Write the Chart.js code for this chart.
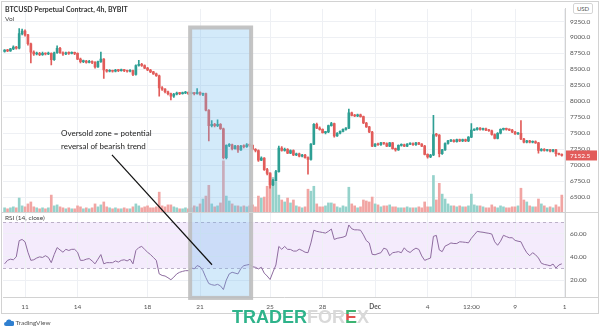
<!DOCTYPE html>
<html>
<head>
<meta charset="utf-8">
<title>BTCUSD Perpetual Contract, 4h</title>
<script src="https://cdn.jsdelivr.net/npm/chart.js@4.4.0/dist/chart.umd.min.js"></script>
<style>
  html, body { margin: 0; padding: 0; background: #fff; }
  #wrap { position: relative; width: 600px; height: 332px; overflow: hidden; }
  #chart { position: absolute; left: 0; top: 0; }
  .txt { position: absolute; white-space: nowrap; line-height: 10px; font-family: Lato, sans-serif; color: #333; }
  #usd { position: absolute; left: 573px; top: 3px; width: 18px; height: 9px; border: 1px solid #d5d5d5; border-radius: 2px;
         font: 6px Lato, sans-serif; color: #555; text-align: center; line-height: 9px; background: #fff; }
  #brand { position: absolute; left: 232px; top: 308px; font: bold 18px 'Liberation Sans', sans-serif; line-height: 18px; }
  #brand .e { background: linear-gradient(#3cb371 0 34%, #e0504e 34% 64%, #3cb371 64%);
              -webkit-background-clip: text; background-clip: text; color: transparent; }
</style>
</head>
<body>
<div id="wrap">
  <canvas id="chart" width="600" height="332"></canvas>
  <div class="txt" style="left:5px;top:4px;font-size:7px;font-weight:700;color:#333">BTCUSD Perpetual Contract, 4h, BYBIT</div>
  <div class="txt" style="left:5px;top:14px;font-size:6.5px;color:#444">Vol</div>
  <div class="txt" style="left:5px;top:213px;font-size:6.5px;color:#444">RSI (14, close)</div>
  <div class="txt" style="left:61px;top:128px;font-size:8px;color:#222">Oversold zone = potential</div>
  <div class="txt" style="left:61px;top:141px;font-size:8px;color:#222">reversal of bearish trend</div>
  <div id="usd">USD</div>
  <div class="txt" style="left:4px;top:318px;font-size:6.5px;color:#555">
    <svg width="10" height="7" viewBox="0 0 10 7" style="vertical-align:-1px"><path d="M2 7a2 2 0 0 1 0-4a3 3 0 0 1 5.5-1a2.2 2.2 0 0 1 1 5z" fill="#2f7fd0"/></svg>
    TradingView
  </div>
  <div id="brand"><span style="color:#2fb38b">TRADER</span><span style="color:#d9d9d9">FOR</span><span class="e">E</span><span style="color:#d9d9d9">X</span></div>
</div>
<script>
// 4h candles, BTCUSD perpetual
const opens = [
  8780, 8800, 8790, 8820, 8850, 8830, 9060, 9100, 9040, 8900,
  8770, 8740, 8750, 8730, 8750, 8740, 8750, 8650, 8760, 8830,
  8760, 8740, 8760, 8750, 8760, 8750, 8660, 8620, 8630, 8610,
  8625, 8610, 8540, 8620, 8660, 8490, 8470, 8480, 8470, 8490,
  8480, 8490, 8480, 8470, 8480, 8420, 8560, 8580, 8560, 8520,
  8490, 8460, 8430, 8400, 8210, 8190, 8150, 8120, 8080, 8110,
  8130, 8120, 8130, 8140, 8120, 8130, 8120, 8140, 8110, 8120,
  7860, 7620, 7640, 7620, 7640, 7570, 7120, 7310, 7320, 7260,
  7300, 7240, 7300, 7290, 7320, 7310, 7250, 7230, 7080, 7110,
  6930, 6870, 6690, 6760, 6900, 7270, 7230, 7250, 7190, 7230,
  7160, 7180, 7140, 7160, 7120, 7090, 7330, 7640, 7580, 7560,
  7510, 7520, 7620, 7650, 7460, 7500, 7530, 7560, 7580, 7820,
  7780, 7770, 7790, 7760, 7660, 7600, 7520, 7300, 7330, 7320,
  7350, 7340, 7300, 7350, 7260, 7240, 7310, 7320, 7300, 7330,
  7340, 7320, 7350, 7330, 7300, 7170, 7130, 7160, 7480, 7470,
  7180, 7240, 7340, 7380, 7390, 7370, 7400, 7380, 7400, 7380,
  7440, 7550, 7560, 7580, 7560, 7570, 7550, 7540, 7480, 7420,
  7500, 7560, 7570, 7560, 7550, 7520, 7490, 7500, 7410, 7360,
  7380, 7360, 7370, 7350, 7230, 7250, 7230, 7240, 7220, 7240,
  7180, 7170
];
const highs = [
  8810, 8815, 8830, 8870, 8860, 9140, 9130, 9120, 9050, 8910,
  8790, 8770, 8765, 8770, 8760, 8770, 8760, 8770, 8870, 8845,
  8775, 8770, 8775, 8775, 8770, 8760, 8675, 8645, 8640, 8640,
  8635, 8620, 8630, 8770, 8670, 8500, 8495, 8490, 8500, 8500,
  8505, 8500, 8490, 8495, 8490, 8570, 8640, 8595, 8570, 8530,
  8500, 8470, 8440, 8410, 8230, 8200, 8160, 8130, 8125, 8145,
  8140, 8145, 8155, 8150, 8145, 8140, 8200, 8150, 8130, 8130,
  7870, 7700, 7655, 7710, 7650, 7580, 7320, 7340, 7330, 7310,
  7310, 7310, 7320, 7340, 7335, 7320, 7260, 7240, 7130, 7120,
  6950, 6880, 6780, 6920, 7300, 7290, 7270, 7260, 7240, 7240,
  7190, 7190, 7170, 7170, 7130, 7340, 7650, 7660, 7600, 7570,
  7530, 7630, 7670, 7660, 7510, 7540, 7570, 7590, 7880, 7830,
  7795, 7800, 7800, 7770, 7670, 7610, 7530, 7340, 7345, 7360,
  7360, 7350, 7360, 7360, 7270, 7320, 7335, 7330, 7340, 7350,
  7350, 7360, 7360, 7340, 7310, 7180, 7170, 7780, 7500, 7480,
  7250, 7350, 7390, 7400, 7400, 7410, 7410, 7410, 7410, 7450,
  7650, 7570, 7590, 7590, 7580, 7580, 7560, 7550, 7490, 7510,
  7570, 7580, 7580, 7570, 7560, 7530, 7510, 7700, 7420, 7390,
  7390, 7380, 7380, 7360, 7260, 7260, 7250, 7250, 7250, 7250,
  7190, 7180
];
const lows = [
  8770, 8775, 8780, 8810, 8815, 8820, 9040, 9020, 8880, 8600,
  8720, 8725, 8715, 8720, 8725, 8730, 8570, 8640, 8750, 8750,
  8720, 8730, 8735, 8740, 8730, 8650, 8600, 8605, 8595, 8600,
  8590, 8520, 8530, 8610, 8360, 8455, 8460, 8455, 8460, 8465,
  8470, 8465, 8455, 8460, 8400, 8410, 8550, 8545, 8510, 8480,
  8450, 8420, 8390, 8080, 8170, 8130, 8100, 8020, 8060, 8100,
  8105, 8110, 8120, 8105, 8110, 8100, 8110, 8095, 8090, 7850,
  7380, 7600, 7600, 7605, 7560, 7100, 7100, 7290, 7240, 7250,
  7200, 7230, 7270, 7280, 7290, 7240, 7210, 7060, 7070, 6920,
  6850, 6640, 6680, 6750, 6890, 7220, 7220, 7180, 7180, 7150,
  7150, 7130, 7130, 7110, 6860, 7080, 7320, 7570, 7550, 7500,
  7490, 7510, 7610, 7440, 7450, 7490, 7520, 7550, 7570, 7770,
  7760, 7760, 7750, 7650, 7590, 7510, 7290, 7290, 7310, 7310,
  7325, 7290, 7290, 7250, 7220, 7230, 7300, 7290, 7290, 7320,
  7310, 7310, 7320, 7290, 7160, 7110, 7120, 7150, 7450, 7130,
  7170, 7230, 7330, 7370, 7360, 7360, 7370, 7370, 7370, 7370,
  7430, 7540, 7550, 7550, 7550, 7540, 7530, 7470, 7410, 7410,
  7490, 7550, 7550, 7540, 7510, 7480, 7480, 7400, 7350, 7350,
  7350, 7350, 7340, 7190, 7220, 7220, 7220, 7210, 7210, 7140,
  7160, 7140
];
const closes = [
  8800, 8790, 8820, 8850, 8830, 9060, 9100, 9040, 8900, 8770,
  8740, 8750, 8730, 8750, 8740, 8750, 8650, 8760, 8830, 8760,
  8740, 8760, 8750, 8760, 8750, 8660, 8620, 8630, 8610, 8625,
  8610, 8540, 8620, 8660, 8490, 8470, 8480, 8470, 8490, 8480,
  8490, 8480, 8470, 8480, 8420, 8560, 8580, 8560, 8520, 8490,
  8460, 8430, 8400, 8210, 8190, 8150, 8120, 8080, 8110, 8130,
  8120, 8130, 8140, 8120, 8130, 8120, 8140, 8110, 8120, 7860,
  7620, 7640, 7620, 7640, 7570, 7120, 7310, 7320, 7260, 7300,
  7240, 7300, 7290, 7320, 7310, 7250, 7230, 7080, 7110, 6930,
  6870, 6690, 6760, 6900, 7270, 7230, 7250, 7190, 7230, 7160,
  7180, 7140, 7160, 7120, 7090, 7330, 7640, 7580, 7560, 7510,
  7520, 7620, 7650, 7460, 7500, 7530, 7560, 7580, 7820, 7780,
  7770, 7790, 7760, 7660, 7600, 7520, 7300, 7330, 7320, 7350,
  7340, 7300, 7350, 7260, 7240, 7310, 7320, 7300, 7330, 7340,
  7320, 7350, 7330, 7300, 7170, 7130, 7160, 7480, 7470, 7180,
  7240, 7340, 7380, 7390, 7370, 7400, 7380, 7400, 7380, 7440,
  7550, 7560, 7580, 7560, 7570, 7550, 7540, 7480, 7420, 7500,
  7560, 7570, 7560, 7550, 7520, 7490, 7500, 7410, 7360, 7380,
  7360, 7370, 7350, 7230, 7250, 7230, 7240, 7220, 7240, 7180,
  7170, 7152.5
];
const volumes = [
  20, 15, 20, 25, 20, 70, 30, 25, 40, 50,
  25, 20, 15, 20, 15, 20, 85, 30, 35, 25,
  20, 15, 20, 15, 15, 30, 25, 15, 20, 15,
  20, 40, 25, 35, 50, 25, 20, 15, 20, 15,
  15, 20, 15, 15, 25, 40, 30, 20, 25, 30,
  20, 20, 25, 100, 30, 25, 35, 35, 25, 20,
  15, 15, 20, 15, 20, 30, 25, 40, 65, 80,
  135, 40, 25, 30, 45, 260, 80, 55, 40, 30,
  30, 25, 30, 25, 30, 35, 25, 80, 70, 75,
  130, 200, 175, 150, 85, 60, 50, 70, 45, 60,
  30, 25, 20, 25, 115, 105, 130, 40, 25, 25,
  30, 45, 45, 40, 25, 20, 30, 25, 125, 40,
  30, 20, 25, 60, 55, 50, 75, 40, 35, 25,
  30, 30, 35, 25, 25, 20, 20, 20, 25, 20,
  20, 20, 25, 20, 50, 25, 25, 185, 60, 145,
  90, 65, 40, 30, 30, 25, 30, 25, 25, 30,
  90, 35, 30, 30, 25, 20, 20, 35, 25, 20,
  30, 25, 20, 20, 25, 25, 30, 120, 60, 50,
  30, 25, 25, 65, 40, 30, 20, 25, 20, 35,
  25, 85
];
const rsiValues = [
  34, 37, 38, 37.5, 40, 54, 55, 53, 44, 37,
  37.5, 39, 40, 39.5, 41, 39.5, 35, 42, 48, 46,
  44, 46.5, 45.5, 46.5, 46.5, 44, 37, 37, 38, 38.5,
  36.5, 34, 38, 42, 34, 35, 35, 35, 36.5, 35.5,
  37, 37.5, 36.5, 38, 34, 45.5, 48, 49, 46.5, 44,
  42, 39.5, 37, 25.3, 24, 23.5, 22, 20.3, 22.5, 25.3,
  26.7, 27.5, 28.1, 28.1, 30.5, 29.6, 32.5, 31.5, 28, 22,
  17, 16, 15.5, 16.3, 15, 11.8, 20, 25.3, 26.7, 26,
  25.3, 30, 32.4, 33, 33.5, 31.5, 31, 29.6, 31, 26,
  23.5, 20.5, 27, 33, 49, 46.5, 49, 46.5, 46.4, 45,
  45, 46.6, 45.5, 44, 43.6, 52, 63, 62, 61.5, 61,
  60.5, 62, 64, 55, 56, 56.5, 57, 58, 67.5, 64.2,
  63.3, 63.3, 63, 59, 54, 52, 42.2, 41.8, 42.8, 43.6,
  47.5, 46.5, 41, 43.6, 44, 44.5, 43.6, 47.8, 45, 43.8,
  46, 47.5, 46.4, 40.8, 37, 38, 39, 57.7, 58.5, 46,
  44.5, 49.3, 50.5, 52, 51.5, 51.5, 53, 52.8, 52.5, 52.1,
  56, 59, 62, 61.5, 61.2, 60.7, 60.3, 59.7, 53, 50,
  53.5, 58.6, 57.5, 56.5, 56.5, 54.2, 53.5, 53, 47.8, 43.6,
  41, 43.6, 41.8, 39, 34.5, 33.5, 33, 32.3, 33.8, 30.4,
  33, 34
];

const priceTicks = [6500, 6750, 7000, 7250, 7500, 7750, 8000, 8250, 8500, 8750, 9000, 9250];
const rsiTicks = [20, 40, 60];
// tick positions are candle indices
const timeTicks = [7, 25, 49, 67, 91, 109, 127, 145, 160, 175, 192];
const timeLabels = ['11', '14', '18', '21', '25', '28', 'Dec', '4', '12:00', '9', '1'];

// highlighted oversold stretch and the pointer to it
const oversoldZone = { from: 63.6, to: 84.5, topPrice: 9155, bottomRsi: 4.6 };
const pointer = { fromIndex: 36.8, fromPrice: 7161, toIndex: 71.1, toRsi: 33.2 };

const upColor = '#2e9f94';
const downColor = '#e25c5a';
const upVolColor = '#95d2cb';
const downVolColor = '#f1a5a3';
const gridColor = '#eef0f4';
const rsiColor = '#8e6c9f';

const isUp = closes.map((c, i) => c >= opens[i]);
const candleColors = isUp.map(u => (u ? upColor : downColor));

const paneDecor = {
  id: 'paneDecor',
  beforeDraw(chart) {
    const { ctx, chartArea: a, scales: { rsi } } = chart;
    ctx.save();
    ctx.fillStyle = '#fff';
    ctx.fillRect(0, 0, chart.width, chart.height);
    const top = rsi.getPixelForValue(70);
    const bottom = rsi.getPixelForValue(30);
    ctx.fillStyle = '#f4ebfc';
    ctx.fillRect(a.left, top, a.right - a.left, bottom - top);
    ctx.restore();
  },
  beforeDatasetsDraw(chart) {
    const { ctx, chartArea: a, scales: { rsi } } = chart;
    ctx.save();
    ctx.strokeStyle = '#bcb1c8';
    ctx.lineWidth = 1;
    ctx.setLineDash([3, 3]);
    [70, 30].forEach(v => {
      const y = Math.round(rsi.getPixelForValue(v)) + 0.5;
      ctx.beginPath();
      ctx.moveTo(a.left, y);
      ctx.lineTo(a.right, y);
      ctx.stroke();
    });
    ctx.restore();
  },
  afterDatasetsDraw(chart) {
    const { ctx, scales: { x, price, rsi } } = chart;
    const l = x.getPixelForValue(oversoldZone.from);
    const r = x.getPixelForValue(oversoldZone.to);
    const t = price.getPixelForValue(oversoldZone.topPrice);
    const b = rsi.getPixelForValue(oversoldZone.bottomRsi);
    ctx.save();
    ctx.fillStyle = 'rgba(110, 185, 240, 0.3)';
    ctx.fillRect(l, t, r - l, b - t);
    ctx.strokeStyle = 'rgba(190, 190, 190, 0.9)';
    ctx.lineWidth = 4;
    ctx.strokeRect(l, t, r - l, b - t);
    ctx.restore();
  },
  afterDraw(chart) {
    const { ctx, chartArea: a, scales: { x, price, rsi } } = chart;
    ctx.save();
    // pane separator, time axis line and outer frame
    ctx.strokeStyle = '#d2d2d2';
    ctx.lineWidth = 1;
    const sep = Math.round(price.bottom) + 0.5;
    ctx.beginPath();
    ctx.moveTo(2, sep);
    ctx.lineTo(598, sep);
    const axisY = Math.round(a.bottom) + 0.5;
    ctx.moveTo(a.right, axisY);
    ctx.lineTo(598, axisY);
    ctx.stroke();
    ctx.strokeRect(1.5, 1.5, 597, 312);

    // pointer from the note down to the RSI dip
    ctx.strokeStyle = '#111';
    ctx.lineWidth = 1.2;
    ctx.beginPath();
    ctx.moveTo(x.getPixelForValue(pointer.fromIndex), price.getPixelForValue(pointer.fromPrice));
    ctx.lineTo(x.getPixelForValue(pointer.toIndex), rsi.getPixelForValue(pointer.toRsi));
    ctx.stroke();

    // last price tag on the price scale
    const last = closes[closes.length - 1];
    const y = price.getPixelForValue(last);
    ctx.fillStyle = isUp[isUp.length - 1] ? upColor : downColor;
    ctx.fillRect(a.right + 1, y - 5, 31, 10);
    ctx.fillStyle = '#fff';
    ctx.font = '6.5px Lato';
    ctx.textBaseline = 'middle';
    ctx.fillText(last.toFixed(1), a.right + 5, y + 0.5);
    ctx.restore();
  }
};

Chart.defaults.font.family = "Lato, 'Open Sans', sans-serif";
Chart.defaults.font.size = 6.5;
Chart.defaults.color = '#555';

new Chart(document.getElementById('chart'), {
  type: 'bar',
  data: {
    datasets: [
      {
        type: 'bar',
        label: 'Body',
        data: closes.map((c, i) => ({ x: i, y: [opens[i], c] })),
        backgroundColor: candleColors,
        barThickness: 2,
        minBarLength: 1,
        grouped: false,
        yAxisID: 'price'
      },
      {
        type: 'bar',
        label: 'Wick',
        data: highs.map((h, i) => ({ x: i, y: [lows[i], h] })),
        backgroundColor: candleColors,
        barThickness: 1,
        grouped: false,
        yAxisID: 'price'
      },
      {
        type: 'bar',
        label: 'Vol',
        data: volumes.map((v, i) => ({ x: i, y: v })),
        backgroundColor: isUp.map(u => (u ? upVolColor : downVolColor)),
        barThickness: 2,
        grouped: false,
        yAxisID: 'vol'
      },
      {
        type: 'line',
        label: 'RSI',
        data: rsiValues.map((v, i) => ({ x: i, y: v })),
        borderColor: rsiColor,
        borderWidth: 1,
        pointRadius: 0,
        yAxisID: 'rsi'
      }
    ]
  },
  options: {
    responsive: false,
    animation: false,
    events: [],
    devicePixelRatio: 1,
    layout: { padding: { left: 3, top: 3, right: 2, bottom: 0 } },
    plugins: { legend: { display: false }, tooltip: { enabled: false } },
    scales: {
      x: {
        type: 'linear',
        min: -0.55,
        max: 192.1,
        offset: false,
        afterBuildTicks: s => { s.ticks = timeTicks.map(v => ({ value: v })); },
        afterFit: s => { s.height = 35; },
        ticks: {
          autoSkip: false,
          maxRotation: 0,
          padding: 6,
          color: '#555',
          callback: (v, i) => timeLabels[i],
          font: c => ({ size: 6.5, weight: timeLabels[c.index] === 'Dec' ? 'bold' : 'normal' })
        },
        grid: { color: gridColor, drawTicks: false, offset: false },
        border: { color: '#d2d2d2' }
      },
      price: {
        type: 'linear',
        position: 'right',
        stack: 'panes',
        stackWeight: 207,
        min: 6272,
        max: 9446,
        afterBuildTicks: s => { s.ticks = priceTicks.map(v => ({ value: v })); },
        afterFit: s => { s.width = 33; },
        ticks: { autoSkip: false, padding: 5, callback: v => v.toFixed(1) },
        grid: { color: gridColor, drawTicks: false },
        border: { color: '#d2d2d2' }
      },
      rsi: {
        type: 'linear',
        position: 'right',
        stack: 'panes',
        stackWeight: 87,
        min: 5.4,
        max: 78.9,
        afterBuildTicks: s => { s.ticks = rsiTicks.map(v => ({ value: v })); },
        afterFit: s => { s.width = 33; },
        ticks: { autoSkip: false, padding: 5, callback: v => v.toFixed(2) },
        grid: { color: gridColor, drawTicks: false },
        border: { color: '#d2d2d2' }
      },
      vol: {
        type: 'linear',
        display: false,
        min: -435,
        max: 1035
      }
    }
  },
  plugins: [paneDecor]
});
</script>
</body>
</html>
